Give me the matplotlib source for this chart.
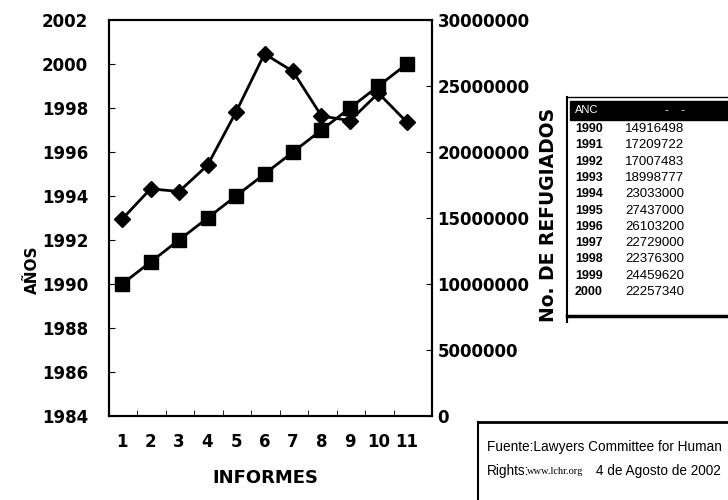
import matplotlib
matplotlib.use("Agg")
import matplotlib.pyplot as plt
from matplotlib.patches import Rectangle
from matplotlib.lines import Line2D

# datos
informes = [1, 2, 3, 4, 5, 6, 7, 8, 9, 10, 11]
anios = [1990, 1991, 1992, 1993, 1994, 1995, 1996, 1997, 1998, 1999, 2000]
refugiados = [14916498, 17209722, 17007483, 18998777, 23033000, 27437000,
              26103200, 22729000, 22376300, 24459620, 22257340]

ticks_anios = list(range(1984, 2003, 2))
ticks_refugiados = list(range(0, 30000001, 5000000))

W, H = 728, 500
narrow = ["Liberation Sans", "DejaVu Sans"]

fig = plt.figure(figsize=(W / 100, H / 100), dpi=100)
ax = fig.add_axes([109 / W, 1 - 416 / H, (432 - 109) / W, (416 - 20) / H])
ax2 = ax.twinx()

# serie de años (cuadrados) en eje izquierdo
ax.plot(informes, anios, color="black", linewidth=2, marker="s",
        markersize=10, zorder=3)
ax.set_xlim(0.54, 11.88)
ax.set_ylim(1984, 2002)
ax.set_yticks(ticks_anios)
ax.set_yticklabels([str(t) for t in ticks_anios], fontsize=12,
                   fontweight="bold")
ax.set_xticks(informes)
ax.set_xticklabels([str(i) for i in informes], fontsize=12,
                   fontweight="bold")
ax.set_xticks([i + 0.53 for i in informes[:-1]], minor=True)
ax.tick_params(axis="y", direction="in", length=4, pad=15)
ax.tick_params(axis="x", which="major", length=0, pad=12)
ax.tick_params(axis="x", which="minor", direction="in", length=4)
for s in ax.spines.values():
    s.set_linewidth(1.5)

# serie de refugiados (rombos) en eje derecho
ax2.plot(informes, refugiados, color="black", linewidth=2, marker="D",
         markersize=8.5, zorder=3)
ax2.set_ylim(0, 30000000)
ax2.set_yticks(ticks_refugiados)
ax2.set_yticklabels([str(t) for t in ticks_refugiados], fontsize=12,
                    fontweight="bold")
ax2.tick_params(axis="y", direction="in", length=4, pad=4)
for s in ax2.spines.values():
    s.set_linewidth(1.5)

# rótulos
fig.text(32 / W, 1 - 270 / H, "AÑOS", rotation=90, ha="center",
         va="center", fontsize=11, fontweight="bold")
fig.text(549 / W, 1 - 215 / H, "No. DE REFUGIADOS", rotation=90,
         ha="center", va="center", fontsize=13.5, fontweight="bold")
fig.text(265 / W, 1 - 478 / H, "INFORMES", ha="center",
         va="center", fontsize=13, fontweight="bold")


def px(x, y):
    return x / W, 1 - y / H


# tabla de la derecha
fig.add_artist(Line2D([567 / W, 567 / W], [1 - 97 / H, 1 - 322 / H],
                      color="black", linewidth=1.5))
fig.add_artist(Line2D([567 / W, 1], [1 - 97 / H, 1 - 97 / H],
                      color="black", linewidth=1))
fig.add_artist(Rectangle(px(570, 120), (W - 570) / W, 19 / H,
                         color="black"))
fig.add_artist(Line2D([567 / W, 1], [1 - 316 / H, 1 - 316 / H],
                      color="black", linewidth=2.5))
fig.text(*px(575, 110), "ANC", color="white", fontsize=8, va="center",
         family=narrow)
fig.text(*px(665, 110), "-    -", color="white", fontsize=8, va="center",
         family=narrow)
for k, (a, r) in enumerate(zip(anios, refugiados)):
    y = 129 + k * 16.3
    fig.text(*px(575, y), str(a), fontsize=9, fontweight="bold",
             va="center", family=narrow)
    fig.text(*px(684, y), str(r), fontsize=9.5, ha="right", va="center",
             family=narrow)

# fuente
fig.add_artist(Line2D([478 / W, 1], [1 - 422 / H, 1 - 422 / H],
                      color="black", linewidth=2))
fig.add_artist(Line2D([478 / W, 478 / W], [1 - 422 / H, 0],
                      color="black", linewidth=1.5))
fig.text(*px(487, 447), "Fuente:Lawyers Committee for Human",
         fontsize=9.8, va="center", family=narrow)
fig.text(*px(487, 471), "Rights:", fontsize=9.8, va="center", family=narrow)
fig.text(*px(527, 472), "www.lchr.org", fontsize=7.5, va="center",
         family="Liberation Serif")
fig.text(*px(596, 471), "4 de Agosto de 2002", fontsize=9.8, va="center",
         family=narrow)

fig.savefig("out.png", dpi=100)
